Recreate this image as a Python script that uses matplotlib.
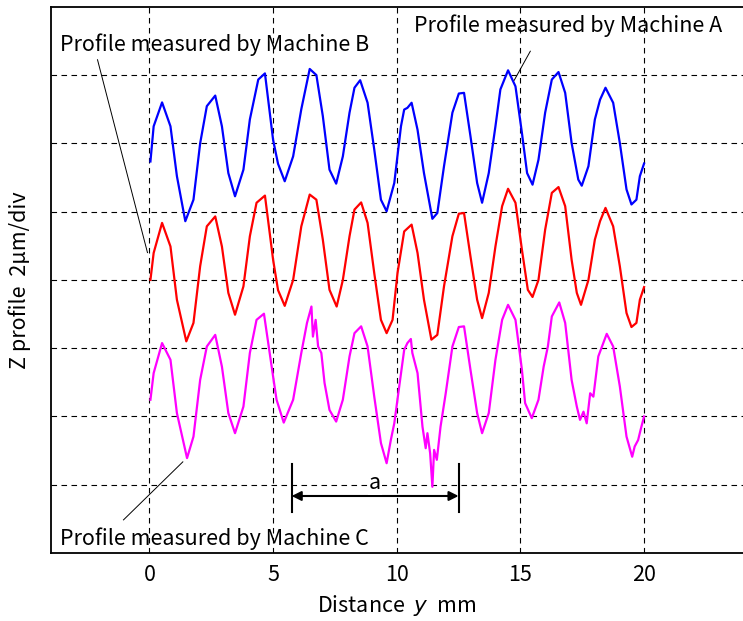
import matplotlib
matplotlib.use("Agg")
import matplotlib.pyplot as plt

plt.rcParams["font.family"] = ["Noto Sans CJK JP", "DejaVu Sans"]

# Machine A (blue), mm / um
A_X = [0.04, 0.17, 0.51, 0.85, 1.11, 1.45, 1.78, 2.05, 2.32, 2.66, 2.93, 3.19, 3.46, 3.80,
       4.06, 4.40, 4.67, 5.00, 5.20, 5.47, 5.81, 6.14, 6.48, 6.75, 7.01, 7.28, 7.55, 7.82,
       8.09, 8.29, 8.52, 8.82, 9.09, 9.36, 9.59, 9.90, 10.17, 10.30, 10.43, 10.60, 10.84,
       11.10, 11.44, 11.64, 11.91, 12.25, 12.51, 12.72, 12.98, 13.25, 13.45, 13.72, 13.99,
       14.19, 14.50, 14.80, 15.06, 15.27, 15.49, 15.73, 16.00, 16.27, 16.54, 16.81, 17.07,
       17.34, 17.48, 17.75, 18.01, 18.22, 18.44, 18.75, 19.02, 19.29, 19.49, 19.69, 19.83,
       20.00]
A_Z = [11.47, 12.50, 13.20, 12.50, 11.04, 9.72, 10.35, 12.00, 13.09, 13.40, 12.50, 11.13,
       10.45, 11.23, 12.70, 13.87, 14.05, 12.10, 11.40, 10.89, 11.62, 13.00, 14.18, 14.00,
       12.80, 11.23, 10.82, 11.62, 12.90, 13.63, 13.85, 13.19, 11.82, 10.35, 10.01, 10.84,
       12.50, 12.99, 13.04, 13.19, 12.40, 11.13, 9.79, 9.96, 11.33, 12.90, 13.46, 13.48,
       12.21, 10.84, 10.26, 11.13, 12.50, 13.58, 14.14, 13.67, 12.31, 11.13, 10.79, 11.52,
       12.90, 13.87, 14.09, 13.48, 12.01, 10.94, 10.76, 11.33, 12.70, 13.28, 13.63, 13.19,
       12.01, 10.65, 10.21, 10.35, 11.04, 11.41]

# Machine B (red)
B_X = [0.04, 0.17, 0.51, 0.85, 1.11, 1.49, 1.78, 2.05, 2.32, 2.66, 2.93, 3.19, 3.46, 3.80,
       4.06, 4.33, 4.67, 5.00, 5.20, 5.47, 5.81, 6.14, 6.48, 6.75, 7.01, 7.28, 7.57, 7.82,
       8.09, 8.29, 8.56, 8.82, 9.09, 9.36, 9.59, 9.83, 10.03, 10.30, 10.60, 10.84, 11.10,
       11.40, 11.64, 11.91, 12.25, 12.51, 12.72, 12.98, 13.25, 13.45, 13.72, 13.99, 14.26,
       14.50, 14.80, 15.06, 15.30, 15.49, 15.73, 16.00, 16.27, 16.54, 16.81, 17.07, 17.28,
       17.45, 17.75, 18.01, 18.22, 18.44, 18.75, 19.02, 19.29, 19.49, 19.69, 19.83, 20.00]
B_Z = [8.00, 8.79, 9.67, 8.98, 7.42, 6.20, 6.74, 8.40, 9.57, 9.86, 8.98, 7.62, 6.98, 7.81,
       9.28, 10.26, 10.47, 8.59, 7.70, 7.24, 8.00, 9.57, 10.50, 10.35, 9.18, 7.71, 7.22, 8.00,
       9.28, 10.06, 10.27, 9.67, 8.20, 6.83, 6.44, 6.83, 8.20, 9.42, 9.62, 8.79, 7.42, 6.25,
       6.39, 7.81, 9.28, 9.94, 9.96, 8.69, 7.42, 6.88, 7.62, 8.98, 10.16, 10.67, 10.26, 8.89,
       7.71, 7.50, 8.00, 9.47, 10.55, 10.72, 10.16, 8.59, 7.62, 7.27, 8.00, 9.18, 9.72, 10.11,
       9.57, 8.40, 7.03, 6.62, 6.74, 7.42, 7.79]

# Machine C (magenta)
C_X = [0.04, 0.17, 0.51, 0.85, 1.11, 1.52, 1.78, 2.05, 2.32, 2.66, 2.93, 3.19, 3.46, 3.80,
       4.06, 4.33, 4.63, 5.00, 5.14, 5.43, 5.81, 6.14, 6.37, 6.55, 6.61, 6.72, 6.82, 6.95,
       7.08, 7.28, 7.55, 7.82, 8.09, 8.29, 8.56, 8.82, 9.09, 9.36, 9.59, 9.76, 9.90, 10.10,
       10.30, 10.43, 10.57, 10.63, 10.84, 11.04, 11.17, 11.24, 11.35, 11.44, 11.51, 11.62,
       11.77, 11.98, 12.25, 12.51, 12.72, 12.98, 13.25, 13.45, 13.72, 13.99, 14.26, 14.50,
       14.80, 15.06, 15.19, 15.46, 15.73, 15.94, 16.11, 16.27, 16.57, 16.81, 17.07, 17.28,
       17.41, 17.55, 17.68, 17.82, 17.95, 18.15, 18.49, 18.75, 19.02, 19.29, 19.52, 19.62,
       19.76, 19.86, 20.00]
C_Z = [4.49, 5.27, 6.15, 5.66, 4.10, 2.78, 3.41, 5.07, 6.05, 6.39, 5.46, 4.10, 3.51, 4.29,
       5.86, 6.83, 7.01, 5.17, 4.49, 3.82, 4.49, 5.86, 6.74, 7.22, 6.34, 6.83, 6.05, 5.86,
       4.98, 4.19, 3.85, 4.49, 5.76, 6.44, 6.64, 6.05, 4.58, 3.22, 2.63, 3.31, 3.80, 4.88,
       5.95, 6.15, 6.27, 5.86, 5.27, 3.70, 3.07, 3.51, 2.92, 1.94, 3.02, 2.73, 3.70, 4.68,
       6.05, 6.62, 6.64, 5.37, 4.10, 3.51, 4.10, 5.66, 6.83, 7.27, 6.83, 5.37, 4.39, 3.95,
       4.49, 5.46, 6.05, 6.93, 7.34, 6.74, 5.07, 4.29, 3.90, 4.14, 3.80, 4.68, 4.58, 5.76,
       6.42, 6.05, 4.88, 3.41, 2.82, 3.12, 3.31, 3.61, 4.00]

X_TICKS = [0, 5, 10, 15, 20]
Y_GRID = [2, 4, 6, 8, 10, 12, 14]
A_SPAN = (5.75, 12.5)

FS = 15.5


def main() -> None:
    fig = plt.figure(figsize=(7.43, 6.21), dpi=100)
    ax = fig.add_axes([0.068, 0.1095, 0.932, 0.8795])

    ax.plot(A_X, A_Z, color="#0000ff", lw=1.6)
    ax.plot(B_X, B_Z, color="#ff0000", lw=1.6)
    ax.plot(C_X, C_Z, color="#ff00ff", lw=1.6)

    ax.set_xlim(-4, 24)
    ax.set_ylim(0, 16)
    ax.set_xticks(X_TICKS)
    ax.set_yticks(Y_GRID)
    ax.set_yticklabels([])
    ax.tick_params(length=0, labelsize=FS, pad=8)
    ax.grid(True, color="black", lw=0.8, linestyle=(0, (5, 4)))
    ax.spines["right"].set_visible(False)
    for side in ("left", "bottom", "top"):
        ax.spines[side].set_linewidth(1.3)

    ax.set_xlabel("Distance  $\\it{y}$  mm", fontsize=FS, labelpad=5)
    ax.set_ylabel("Z profile  2\u00b5m/div", fontsize=FS, labelpad=6)

    # labels with leader lines
    ax.text(-3.6, 14.9, "Profile measured by Machine B", fontsize=FS, va="center")
    ax.plot([-2.1, -0.08], [14.45, 8.8], color="black", lw=0.7)
    ax.text(10.7, 15.45, "Profile measured by Machine A", fontsize=FS, va="center")
    ax.plot([15.4, 14.75], [14.7, 13.85], color="black", lw=0.7)
    ax.text(-3.6, 0.42, "Profile measured by Machine C", fontsize=FS, va="center")
    ax.plot([-1.05, 1.35], [0.97, 2.67], color="black", lw=0.7)

    # pitch dimension "a"
    for xv in A_SPAN:
        ax.plot([xv, xv], [1.2, 2.6], color="black", lw=1.5)
    ax.annotate("", xy=(A_SPAN[0], 1.67), xytext=(A_SPAN[1], 1.67),
                arrowprops=dict(arrowstyle="<|-|>", color="black", lw=1.5,
                                shrinkA=0, shrinkB=0, mutation_scale=14))
    ax.text(sum(A_SPAN) / 2, 2.05, "a", fontsize=FS, ha="center", va="center",
            bbox=dict(facecolor="white", edgecolor="none", pad=1))

    fig.savefig("out.png", dpi=100)


if __name__ == "__main__":
    main()
